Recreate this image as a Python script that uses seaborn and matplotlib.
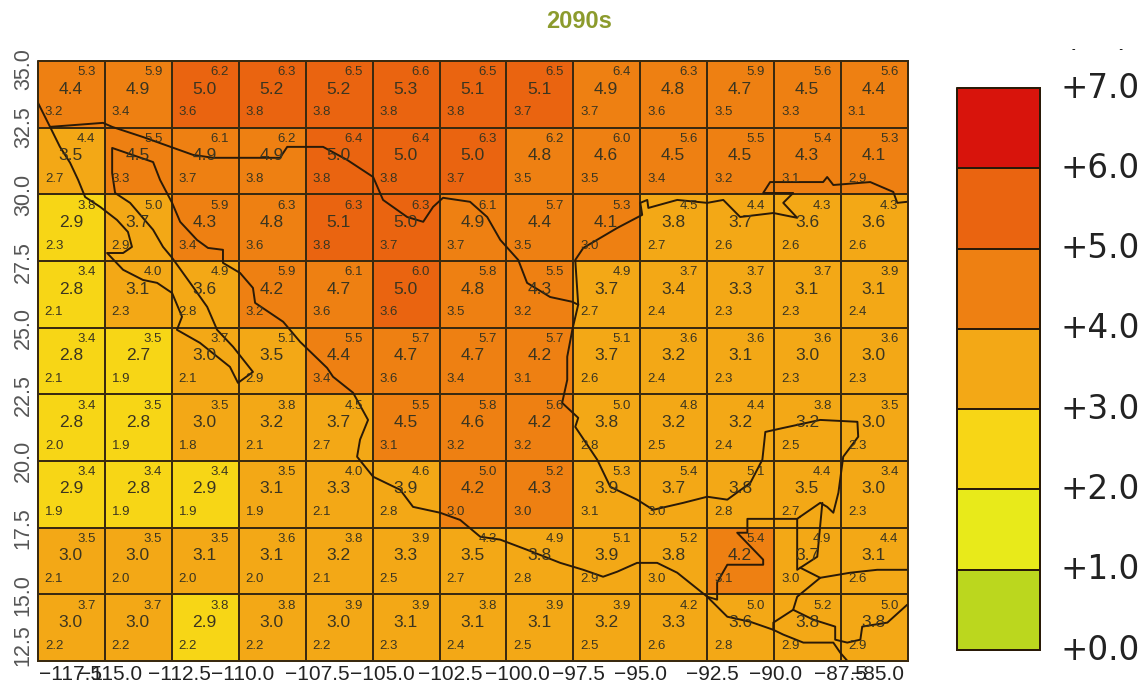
import matplotlib
matplotlib.use("Agg")
import matplotlib.pyplot as plt
import numpy as np
import pandas as pd
import seaborn as sns
from matplotlib.colors import BoundaryNorm, ListedColormap
from matplotlib.transforms import Bbox, TransformedBbox

# 2.5 degree cell edges
lon_labels = ["−117.5", "−115.0", "−112.5", "−110.0", "−107.5", "−105.0", "−102.5",
              "−100.0", "−97.5", "−95.0", "−92.5", "−90.0", "−87.5", "−85.0"]
lat_labels = ["35.0", "32.5", "30.0", "27.5", "25.0", "22.5", "20.0", "17.5", "15.0", "12.5"]
level_labels = ["+7.0", "+6.0", "+5.0", "+4.0", "+3.0", "+2.0", "+1.0", "+0.0"]
levels = [0, 1, 2, 3, 4, 5, 6, 7]
level_colors = ["#BBD71E", "#E8EA1A", "#F7D616", "#F3A816", "#EE8012", "#EA6410", "#D8140C"]

high = [
    [5.3, 5.9, 6.2, 6.3, 6.5, 6.6, 6.5, 6.5, 6.4, 6.3, 5.9, 5.6, 5.6],
    [4.4, 5.5, 6.1, 6.2, 6.4, 6.4, 6.3, 6.2, 6.0, 5.6, 5.5, 5.4, 5.3],
    [3.8, 5.0, 5.9, 6.3, 6.3, 6.3, 6.1, 5.7, 5.3, 4.5, 4.4, 4.3, 4.3],
    [3.4, 4.0, 4.9, 5.9, 6.1, 6.0, 5.8, 5.5, 4.9, 3.7, 3.7, 3.7, 3.9],
    [3.4, 3.5, 3.7, 5.1, 5.5, 5.7, 5.7, 5.7, 5.1, 3.6, 3.6, 3.6, 3.6],
    [3.4, 3.5, 3.5, 3.8, 4.5, 5.5, 5.8, 5.6, 5.0, 4.8, 4.4, 3.8, 3.5],
    [3.4, 3.4, 3.4, 3.5, 4.0, 4.6, 5.0, 5.2, 5.3, 5.4, 5.1, 4.4, 3.4],
    [3.5, 3.5, 3.5, 3.6, 3.8, 3.9, 4.3, 4.9, 5.1, 5.2, 5.4, 4.9, 4.4],
    [3.7, 3.7, 3.8, 3.8, 3.9, 3.9, 3.8, 3.9, 3.9, 4.2, 5.0, 5.2, 5.0],
]
mean = [
    [4.4, 4.9, 5.0, 5.2, 5.2, 5.3, 5.1, 5.1, 4.9, 4.8, 4.7, 4.5, 4.4],
    [3.5, 4.5, 4.9, 4.9, 5.0, 5.0, 5.0, 4.8, 4.6, 4.5, 4.5, 4.3, 4.1],
    [2.9, 3.7, 4.3, 4.8, 5.1, 5.0, 4.9, 4.4, 4.1, 3.8, 3.7, 3.6, 3.6],
    [2.8, 3.1, 3.6, 4.2, 4.7, 5.0, 4.8, 4.3, 3.7, 3.4, 3.3, 3.1, 3.1],
    [2.8, 2.7, 3.0, 3.5, 4.4, 4.7, 4.7, 4.2, 3.7, 3.2, 3.1, 3.0, 3.0],
    [2.8, 2.8, 3.0, 3.2, 3.7, 4.5, 4.6, 4.2, 3.8, 3.2, 3.2, 3.2, 3.0],
    [2.9, 2.8, 2.9, 3.1, 3.3, 3.9, 4.2, 4.3, 3.9, 3.7, 3.8, 3.5, 3.0],
    [3.0, 3.0, 3.1, 3.1, 3.2, 3.3, 3.5, 3.8, 3.9, 3.8, 4.2, 3.7, 3.1],
    [3.0, 3.0, 2.9, 3.0, 3.0, 3.1, 3.1, 3.1, 3.2, 3.3, 3.6, 3.8, 3.8],
]
low = [
    [3.2, 3.4, 3.6, 3.8, 3.8, 3.8, 3.8, 3.7, 3.7, 3.6, 3.5, 3.3, 3.1],
    [2.7, 3.3, 3.7, 3.8, 3.8, 3.8, 3.7, 3.5, 3.5, 3.4, 3.2, 3.1, 2.9],
    [2.3, 2.9, 3.4, 3.6, 3.8, 3.7, 3.7, 3.5, 3.0, 2.7, 2.6, 2.6, 2.6],
    [2.1, 2.3, 2.8, 3.2, 3.6, 3.6, 3.5, 3.2, 2.7, 2.4, 2.3, 2.3, 2.4],
    [2.1, 1.9, 2.1, 2.9, 3.4, 3.6, 3.4, 3.1, 2.6, 2.4, 2.3, 2.3, 2.3],
    [2.0, 1.9, 1.8, 2.1, 2.7, 3.1, 3.2, 3.2, 2.8, 2.5, 2.4, 2.5, 2.3],
    [1.9, 1.9, 1.9, 1.9, 2.1, 2.8, 3.0, 3.0, 3.1, 3.0, 2.8, 2.7, 2.3],
    [2.1, 2.0, 2.0, 2.0, 2.1, 2.5, 2.7, 2.8, 2.9, 3.0, 3.1, 3.0, 2.6],
    [2.2, 2.2, 2.2, 2.2, 2.2, 2.3, 2.4, 2.5, 2.5, 2.6, 2.8, 2.9, 2.9],
]

# coast and borders as (lon, lat)
pacific_coast = [
    (-117.5, 33.43), (-117.05, 32.53), (-116.68, 31.78), (-116.30, 31.18), (-116.0, 30.54),
    (-115.74, 29.90), (-115.18, 29.53), (-114.55, 29.04), (-114.14, 28.59), (-113.99, 28.03),
    (-114.32, 27.80), (-114.92, 27.80), (-114.32, 27.17), (-113.58, 26.79), (-113.05, 26.68),
    (-112.49, 26.30), (-112.12, 25.41), (-112.31, 24.92), (-111.45, 24.43), (-110.33, 23.53),
    (-110.03, 22.93), (-109.47, 23.34), (-110.21, 24.28), (-110.81, 24.92), (-111.18, 25.78),
    (-111.71, 26.53), (-112.49, 27.62), (-112.83, 28.03), (-113.20, 28.67), (-114.06, 29.68),
    (-114.62, 30.05), (-114.73, 30.80), (-114.73, 31.74), (-113.20, 31.21), (-112.94, 30.54),
    (-112.49, 29.68), (-112.19, 28.97), (-111.56, 28.29), (-111.15, 27.99), (-110.59, 27.92),
    (-110.59, 27.43), (-109.95, 27.05), (-109.47, 26.49), (-109.39, 25.93), (-108.34, 25.22),
    (-107.71, 24.47), (-106.70, 23.49), (-106.48, 23.16), (-105.73, 22.56), (-105.17, 21.54),
    (-105.47, 20.80), (-105.58, 20.16), (-104.98, 19.41), (-103.97, 18.92), (-103.49, 18.28),
    (-102.48, 18.06), (-101.73, 17.79), (-100.98, 17.16), (-100.23, 17.05), (-99.23, 16.67),
    (-97.99, 16.18), (-97.13, 15.92), (-96.39, 15.66), (-95.86, 15.85), (-95.12, 16.18),
    (-94.37, 16.18), (-93.62, 15.81), (-92.50, 14.91), (-91.75, 14.16), (-90.89, 13.97),
    (-90.03, 13.67), (-89.66, 13.49), (-88.91, 13.19), (-87.79, 13.19), (-87.53, 12.81),
    (-87.27, 12.51),
]
us_border = [
    (-117.05, 32.53), (-115.07, 32.68), (-114.73, 32.53), (-113.58, 32.15), (-111.71, 31.48),
    (-110.96, 31.37), (-108.46, 31.37), (-108.19, 31.78), (-106.85, 31.78), (-105.95, 31.29),
    (-104.98, 30.65), (-104.61, 29.79), (-103.71, 29.15), (-103.11, 28.97), (-102.74, 29.53),
    (-102.37, 29.87), (-101.36, 29.72), (-100.72, 29.15), (-100.23, 28.29), (-99.56, 27.54),
    (-99.23, 26.68), (-98.37, 26.15), (-97.54, 25.97), (-97.32, 25.86),
]
gulf_north = [
    (-97.32, 25.86), (-97.43, 27.54), (-97.13, 27.99), (-95.86, 28.74), (-94.93, 29.23),
    (-95.0, 29.68), (-94.74, 29.79), (-94.70, 29.49), (-93.62, 29.79), (-92.50, 29.68),
    (-91.90, 29.79), (-91.27, 29.15), (-90.03, 29.30), (-89.14, 29.12), (-89.66, 29.68),
    (-89.29, 30.05), (-90.41, 30.05), (-90.15, 30.46), (-89.51, 30.46), (-88.17, 30.46),
    (-88.02, 30.65), (-87.79, 30.35), (-86.41, 30.46), (-85.55, 30.09), (-85.40, 29.68),
    (-85.03, 29.72),
]
gulf_south = [
    (-97.32, 25.86), (-97.54, 24.92), (-97.73, 23.91), (-97.73, 23.04), (-97.92, 22.18),
    (-97.32, 21.62), (-97.43, 21.28), (-96.61, 20.05), (-96.12, 19.03), (-95.12, 18.55),
    (-94.52, 18.17), (-93.40, 18.43), (-92.50, 18.66), (-91.75, 18.55), (-90.89, 19.18),
    (-90.44, 20.05), (-90.33, 21.09), (-89.66, 21.24), (-88.28, 21.54), (-86.89, 21.47),
    (-86.86, 20.91), (-87.42, 20.16), (-87.60, 18.81), (-87.79, 18.06), (-88.02, 18.28),
    (-88.28, 18.43), (-89.03, 17.91),
]
guatemala_border = [
    (-89.03, 17.91), (-89.14, 17.83), (-91.0, 17.83), (-91.0, 17.31), (-91.38, 17.31),
    (-90.41, 16.30), (-90.41, 16.11), (-91.75, 16.11), (-92.13, 15.44), (-92.13, 14.80),
    (-92.50, 14.91),
]
belize_border = [(-89.14, 17.83), (-89.14, 15.92), (-88.39, 16.41), (-88.20, 18.43)]
honduras_coast = [(-89.03, 16.0), (-88.28, 15.62), (-87.16, 15.81), (-86.15, 15.92), (-85.03, 15.92)]
guatemala_south = [(-88.28, 15.62), (-89.14, 14.91), (-89.29, 14.42), (-90.03, 13.94), (-90.03, 13.67)]
salvador_border = [
    (-89.29, 14.42), (-88.54, 14.05), (-87.72, 13.79), (-87.72, 13.30), (-87.27, 13.19),
    (-86.78, 13.30), (-86.71, 13.79), (-85.77, 13.94), (-85.03, 14.61),
]
outlines = [pacific_coast, us_border, gulf_north, gulf_south, guatemala_border, belize_border,
            honduras_coast, guatemala_south, salvador_border]

W, H = 1146, 682
EDGE = "#3A2A10"
INK = "#3B3520"

sns.set_theme(style="white")
plt.rcParams["font.family"] = ["Liberation Sans", "DejaVu Sans"]

cmap = ListedColormap(level_colors)
norm = BoundaryNorm(levels, cmap.N)

fig = plt.figure(figsize=(W / 100, H / 100), dpi=100)
ax = fig.add_axes([38 / W, 1 - 661 / H, 870 / W, 600 / H])
cax = fig.add_axes([957 / W, 1 - 650 / H, 83 / W, 562 / H])

df = pd.DataFrame(mean, index=lat_labels[:-1], columns=lon_labels[:-1])
sns.heatmap(df, ax=ax, cmap=cmap, norm=norm, cbar=False, linewidths=1.1, linecolor=EDGE, square=False)
ax.collections[0].set_clip_on(False)

for i, row in enumerate(mean):
    for j, val in enumerate(row):
        ax.text(j + 0.49, i + 0.42, f"{val:.1f}", ha="center", va="center", fontsize=12.5, color=INK)
        ax.text(j + 0.72, i + 0.17, f"{high[i][j]:.1f}", ha="center", va="center", fontsize=9.5, color=INK)
        ax.text(j + 0.24, i + 0.77, f"{low[i][j]:.1f}", ha="center", va="center", fontsize=9.5, color=INK)

for line in outlines:
    pts = np.array(line)
    ax.plot((pts[:, 0] + 117.5) / 2.5, (35 - pts[:, 1]) / 2.5, color="#2A1A08", lw=1.4, solid_joinstyle="round")

# tick labels sit off the cell edges in the original, so they get their own positions
ax.set_xticks([0.48, 1.08, 2.12, 3.06, 4.17, 5.14, 6.16, 7.16, 8.07, 9.0, 10.07, 11.02, 11.99, 12.54])
ax.set_xticklabels(lon_labels, rotation=0, fontsize=15, color="#222222")
ax.set_yticks([0.12, 0.99, 2.01, 3.01, 4.0, 5.01, 6.0, 7.0, 8.01, 8.76])
ax.set_yticklabels(lat_labels, rotation=90, va="center", fontsize=15.5, color="#555555")
ax.tick_params(axis="both", length=0, pad=3)
ax.set_xlabel("")
ax.set_ylabel("")
for side in ax.spines.values():
    side.set_visible(True)
    side.set_color(EDGE)
    side.set_linewidth(1.1)

bar = pd.DataFrame({"v": [l + 0.5 for l in levels[:-1]][::-1]})
sns.heatmap(bar, ax=cax, cmap=cmap, norm=norm, cbar=False, linewidths=1.1, linecolor="#2A1A08")
cax.collections[0].set_clip_on(False)
cax.set_xticks([])
cax.set_xlabel("")
cax.yaxis.tick_right()
cax.set_yticks(range(len(level_labels)))
cax.set_yticklabels(level_labels, rotation=0, va="center", fontsize=23.5, color="#222222", family="DejaVu Sans")
cax.tick_params(axis="y", length=0, pad=15, right=False)
for side in cax.spines.values():
    side.set_visible(True)
    side.set_color("#2A1A08")
    side.set_linewidth(1.1)

fig.text(579 / W, 1 - 22 / H, "2090s", ha="center", va="center", fontsize=17, fontweight="bold", color="#8C9B2D")

# the unit above the colour bar is cut off by the crop, only the bracket ends show
unit = fig.text(1097 / W, 1 - 37 / H, "(°C)", ha="center", va="center", fontsize=24, color="#222222", family="DejaVu Sans")
unit.set_clip_box(TransformedBbox(Bbox([[0, 1 - 60 / H], [1, 1 - 49 / H]]), fig.transFigure))
unit.set_clip_on(True)

plt.savefig("out.png", dpi=100)
plt.close()
